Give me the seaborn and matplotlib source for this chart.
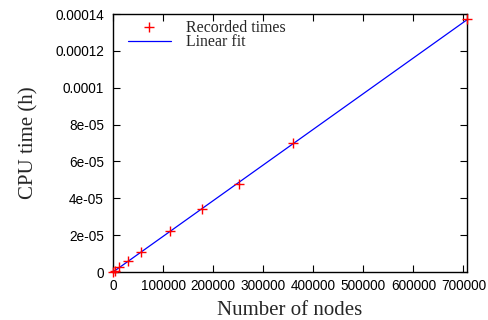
import numpy as np
import pandas as pd
import matplotlib
matplotlib.use("Agg")
import matplotlib.pyplot as plt
from matplotlib.ticker import FuncFormatter
import seaborn as sns

# data
nodes = [500, 3500, 12000, 30000, 55400, 114800, 176800, 252000, 360000, 707000]
cpu_h = [0.01e-5, 0.07e-5, 0.25e-5, 0.62e-5, 1.10e-5, 2.20e-5, 3.40e-5, 4.75e-5, 7.00e-5, 13.72e-5]
x_ticks = [0, 100000, 200000, 300000, 400000, 500000, 600000, 700000]
y_ticks = [0, 2e-5, 4e-5, 6e-5, 8e-5, 1e-4, 1.2e-4, 1.4e-4]

sns.set_style("ticks")
serif = ["Liberation Serif", "DejaVu Serif"]
sans = ["Liberation Sans", "DejaVu Sans"]
plt.rcParams["font.family"] = sans

df = pd.DataFrame({"nodes": nodes, "cpu": cpu_h})
slope, intercept = np.polyfit(df["nodes"], df["cpu"], 1)
fit = pd.DataFrame({"nodes": [0, max(nodes)]})
fit["cpu"] = slope * fit["nodes"] + intercept

fig = plt.figure(figsize=(4.88, 3.2), dpi=100)
ax = fig.add_axes([113 / 488, 1 - 272 / 320, (467 - 113) / 488, (272 - 14) / 320])

sns.lineplot(data=fit, x="nodes", y="cpu", ax=ax, color="#0000ff", linewidth=0.9,
             label="Linear fit", legend=False)
sns.scatterplot(data=df, x="nodes", y="cpu", ax=ax, marker="+", color="#ff0000",
                s=60, linewidth=1.0, label="Recorded times", legend=False, zorder=3,
                clip_on=False)

ax.set_xlim(0, 707000)
ax.set_ylim(0, 1.4e-4)
ax.set_xticks(x_ticks)
ax.set_yticks(y_ticks)
fmt = FuncFormatter(lambda v, p: "%g" % v)
ax.xaxis.set_major_formatter(fmt)
ax.yaxis.set_major_formatter(fmt)
ax.tick_params(direction="in", length=5, width=0.8, top=True, right=True,
               labelsize=9.8, colors="black")
ax.tick_params(axis="y", pad=6.5)
ax.tick_params(axis="x", pad=5)
for s in ax.spines.values():
    s.set_visible(True)
    s.set_linewidth(1.0)
    s.set_color("black")

ax.set_xlabel("Number of nodes", fontsize=15, family=serif, labelpad=6)
ax.set_ylabel("CPU time (h)", fontsize=15, family=serif, labelpad=12)

h, l = ax.get_legend_handles_labels()
order = [l.index("Recorded times"), l.index("Linear fit")]
leg = ax.legend([h[i] for i in order], [l[i] for i in order], loc="upper left",
                bbox_to_anchor=(0.015, 1.015), frameon=False, handlelength=2.7,
                handletextpad=1.0, labelspacing=-0.08, borderaxespad=0.2,
                prop={"family": serif, "size": 11.4})

fig.savefig("out.png", dpi=100)
